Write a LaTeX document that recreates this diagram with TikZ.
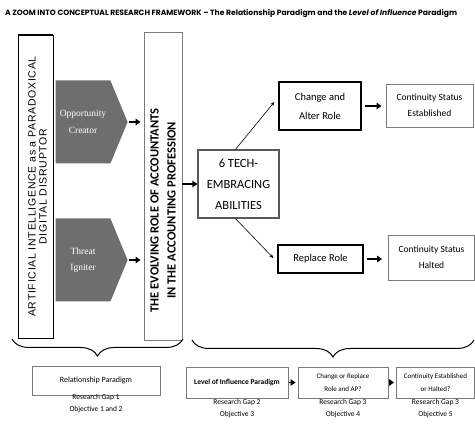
\documentclass[tikz,border=0pt]{standalone}
\usepackage{fontspec}
\setmainfont{Carlito}
\newfontfamily\arialfont{Liberation Sans}[LetterSpace=7]
\newfontfamily\titlefont{Poppins}
\newfontfamily\chevfont{Liberation Serif}
\usetikzlibrary{shapes.symbols,arrows.meta,decorations.pathreplacing}
\definecolor{boxgray}{HTML}{7A7A7A}
\definecolor{chevgray}{HTML}{6E6E6E}

\begin{document}
\begin{tikzpicture}[x=1pt,y=-1pt,
	box/.style={draw=boxgray,line width=0.9pt,inner sep=1pt,align=center},
	rolebox/.style={draw=black,line width=1.4pt,inner sep=1pt,align=center},
	chevron/.style={signal,signal to=east,signal pointer angle=135,fill=chevgray,text=white,
		inner sep=0pt,minimum width=72pt,minimum height=83pt,align=center,
		font=\chevfont\fontsize{9.5}{16.5}\selectfont},
	fatarrow/.style={-{Triangle[length=5pt,width=6.5pt]},line width=1.6pt},
	thinarrow/.style={-{Stealth[length=4pt,width=3.5pt]},line width=0.6pt},
	gaptext/.style={align=center,font=\fontsize{7.5}{12}\selectfont},
	paren/.style={decorate,decoration={brace,mirror,amplitude=17pt},line width=1pt}]
	\useasboundingbox (0,0) rectangle (475,425);
	\node[anchor=west,inner sep=0pt,font=\titlefont\bfseries\fontsize{7.6}{9}\selectfont] (title) at (5,14)
		{A ZOOM INTO CONCEPTUAL RESEARCH FRAMEWORK \textendash{} The Relationship Paradigm and the \textit{Level of Influence} Paradigm};

	% the disruptor and the profession
	\node[box,draw=black,minimum width=35pt,minimum height=303pt] (ai) at (35.5,186.5) {};
	\draw[line width=1.8pt] (ai.north west) -- (ai.north east);
	\draw[line width=1.8pt] (ai.south west) -- (ai.south east);
	\node[rotate=90,align=center,inner sep=0pt,font=\arialfont\fontsize{10.5}{11}\selectfont] (aitext) at ([xshift=2pt]ai.center)
		{ARTIFICIAL INTELLIGENCE as a PARADOXICAL\\DIGITAL DISRUPTOR};
	\node[chevron] (opp) at (83,122) {Opportunity\\Creator};
	\node[chevron] (threat) at (83,260) {Threat\\Igniter};
	\node[box,minimum width=38pt,minimum height=308pt] (prof) at (163,186) {};
	\node[rotate=90,anchor=west,align=center,inner sep=0pt,font=\bfseries\fontsize{12.5}{17}\selectfont] (proftext) at ([yshift=28pt]prof.south)
		{THE EVOLVING ROLE OF ACCOUNTANTS\\IN THE ACCOUNTING PROFESSION};
	\draw[fatarrow,shorten <=1pt] (opp.east) -- ([xshift=-3pt]opp.east -| prof.west);
	\draw[fatarrow,shorten <=1pt] (threat.east) -- ([xshift=-3pt]threat.east -| prof.west);

	% abilities and roles
	\node[box,draw=black!65,line width=1.2pt,minimum width=81pt,minimum height=68pt,font=\fontsize{12.5}{21}\selectfont] (tech) at (238.5,184)
		{6 TECH-\\EMBRACING\\ABILITIES};
	\node[rolebox,minimum width=82pt,minimum height=48pt,font=\fontsize{10.5}{19}\selectfont] (change) at (320,106) {Change and\\Alter Role};
	\node[rolebox,minimum width=85pt,minimum height=28pt,font=\fontsize{10.5}{19}\selectfont] (replace) at (320.5,259) {Replace Role};
	\node[box,minimum width=87pt,minimum height=43pt,font=\fontsize{9.5}{16}\selectfont] (est) at (429.5,105.5) {Continuity Status\\Established};
	\node[box,minimum width=86pt,minimum height=45pt,font=\fontsize{9.5}{16}\selectfont] (halt) at (431.5,257.5) {Continuity Status\\Halted};
	\draw[fatarrow] (prof.east |- tech.west) -- (tech.west);
	\draw[thinarrow] ([xshift=-3pt]tech.north) -- ([xshift=-4pt,yshift=4pt]change.west);
	\draw[thinarrow] ([xshift=-3pt]tech.south) -- ([xshift=-4pt,yshift=1pt]replace.west);
	\draw[fatarrow,shorten <=3pt,shorten >=4pt] (change.east) -- (change.east -| est.west);
	\draw[fatarrow,shorten <=3pt,shorten >=6pt] (replace.east) -- (replace.east -| halt.west);

	% paradigms
	\draw[paren] (12,339) -- (183,339);
	\draw[paren] (192,340) -- (474,340);
	\node[box,minimum width=128pt,minimum height=29pt,font=\fontsize{8}{10}\selectfont] (rel) at (96,380.5) {Relationship Paradigm};
	\node[box,minimum width=102pt,minimum height=31pt,font=\bfseries\fontsize{7.5}{10}\selectfont] (loi) at (237,382.5) {Level of Influence Paradigm};
	\node[box,minimum width=90pt,minimum height=31pt,font=\fontsize{7}{13}\selectfont] (cor) at (343,382.5) {Change or Replace\\Role and AP?};
	\node[box,minimum width=78pt,minimum height=31pt,font=\fontsize{7}{13}\selectfont] (ceh) at (435.5,382.5) {Continuity Established\\or Halted?};
	\draw[fatarrow,shorten <=1pt,shorten >=2pt] (loi.east) -- (cor.west);
	\draw[fatarrow,shorten <=1pt,shorten >=2pt] (cor.east) -- (ceh.west);
	\node[gaptext,anchor=north] (gap1) at ([yshift=5pt]rel.south) {Research Gap 1\\Objective 1 and 2};
	\node[gaptext,anchor=north] (gap2) at ([yshift=3pt]loi.south) {Research Gap 2\\Objective 3};
	\node[gaptext,anchor=north] (gap3) at ([yshift=3pt]cor.south) {Research Gap 3\\Objective 4};
	\node[gaptext,anchor=north] (gap4) at ([yshift=3pt]ceh.south) {Research Gap 3\\Objective 5};
\end{tikzpicture}
\end{document}
